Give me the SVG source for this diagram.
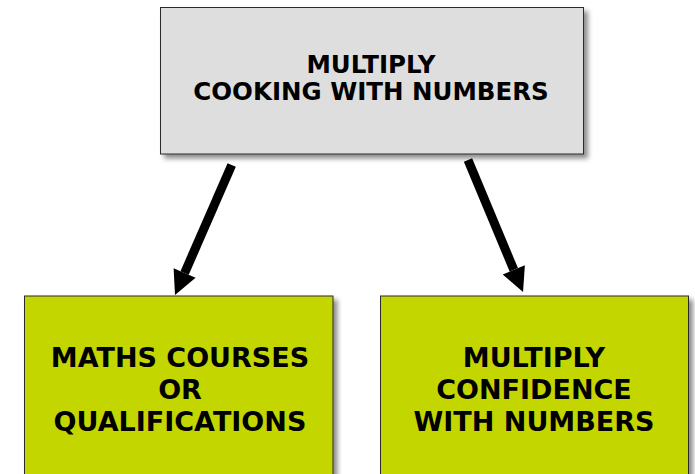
<svg xmlns="http://www.w3.org/2000/svg" width="695" height="474" viewBox="0 0 695 474">
<defs>
<filter id="sh" x="-10%" y="-10%" width="125%" height="130%">
<feDropShadow dx="4" dy="4" stdDeviation="2.5" flood-color="#000" flood-opacity="0.45"/>
</filter>
<marker id="ah" markerUnits="userSpaceOnUse" markerWidth="26" markerHeight="26" viewBox="0 -13 25 26" refX="0" refY="0" orient="auto">
<path d="M0,-12 L24,0 L0,12 Z" fill="#000"/>
</marker>
<style>
.box{stroke:#2a2a2a;stroke-width:1;filter:url(#sh);}
.top{fill:#dedede;}
.grn{fill:#c4d600;}
text{font-family:"DejaVu Sans","Verdana",sans-serif;font-weight:bold;fill:#000;text-anchor:middle;}
.t1{font-size:24.5px;}
.t2{font-size:27px;}
.arr{stroke:#000;stroke-width:9;fill:none;marker-end:url(#ah);}
</style>
</defs>
<rect width="695" height="474" fill="#fff"/>
<g id="connectors">
<line class="arr" x1="231.7" y1="165" x2="184.6" y2="273"/>
<line class="arr" x1="468" y1="160" x2="513.8" y2="269.8"/>
</g>
<g id="node-top">
<rect class="box top" x="160.5" y="7.5" width="423" height="146.5"/>
<text class="t1" x="371" y="72.5">MULTIPLY</text>
<text class="t1" x="371" y="100">COOKING WITH NUMBERS</text>
</g>
<g id="node-maths">
<rect class="box grn" x="24.5" y="296" width="308.5" height="190"/>
<text class="t2" x="180" y="367">MATHS COURSES</text>
<text class="t2" x="180" y="399">OR</text>
<text class="t2" x="180" y="431">QUALIFICATIONS</text>
</g>
<g id="node-confidence">
<rect class="box grn" x="380.5" y="296" width="308" height="190"/>
<text class="t2" x="534" y="367">MULTIPLY</text>
<text class="t2" x="534" y="399">CONFIDENCE</text>
<text class="t2" x="534" y="431">WITH NUMBERS</text>
</g>
</svg>
